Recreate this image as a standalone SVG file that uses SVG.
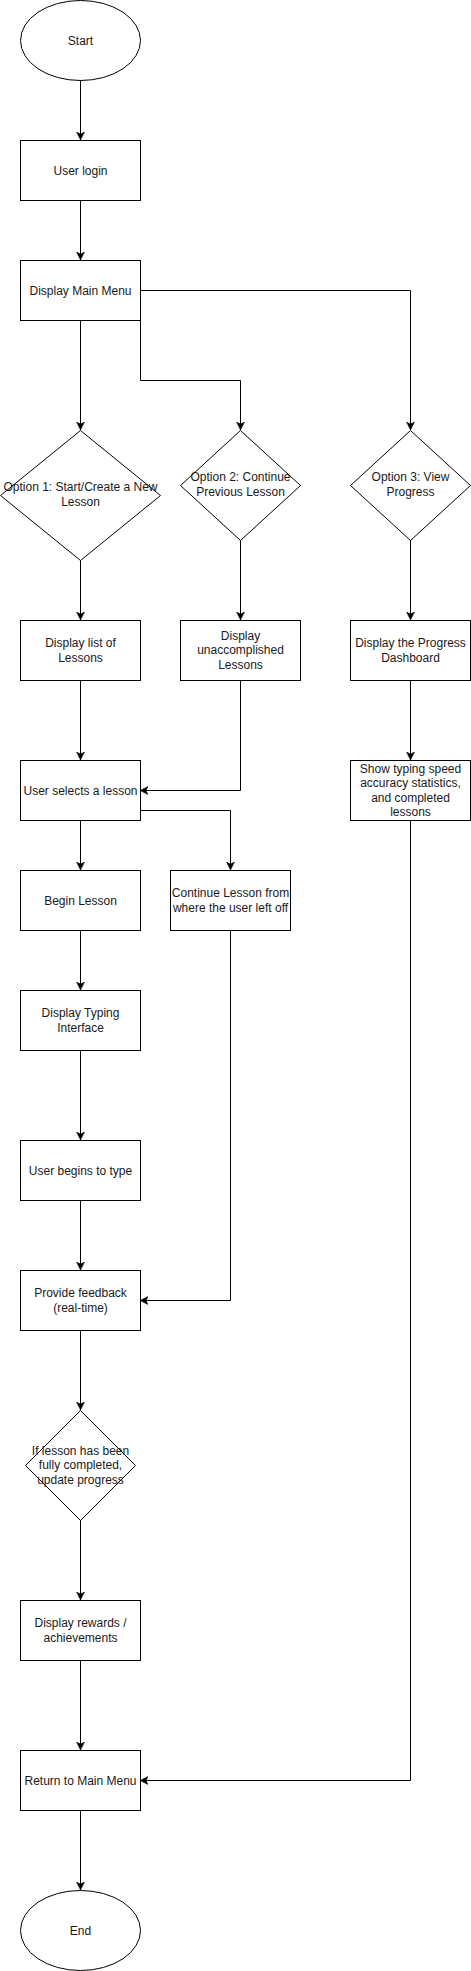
<svg xmlns="http://www.w3.org/2000/svg" width="471" height="1971" viewBox="0 0 471 1971">
<defs>
<style>
.n{fill:#ffffff;stroke:#000000;stroke-width:1}
.t{font-family:"Liberation Sans",Arial,Helvetica,sans-serif;font-size:12px;fill:#1a1a1a;text-anchor:middle}
.c{fill:none;stroke:#000000;stroke-width:1}
</style>
<marker id="arr" markerUnits="userSpaceOnUse" markerWidth="10" markerHeight="10" refX="8" refY="4" orient="auto">
<path d="M0,0 L8,4 L0,8 L2,4 z" fill="#000000" stroke="#000000" stroke-width="0.5"/>
</marker>
</defs>
<rect x="0" y="0" width="471" height="1971" fill="#ffffff"/>
<g id="connectors">
<path class="c" marker-end="url(#arr)" d="M80.5,80 L80.5,140"/>
<path class="c" marker-end="url(#arr)" d="M80.5,200 L80.5,260"/>
<path class="c" marker-end="url(#arr)" d="M80.5,320 L80.5,430"/>
<path class="c" marker-end="url(#arr)" d="M140.5,320 L140.5,380.5 L240.5,380.5 L240.5,430"/>
<path class="c" marker-end="url(#arr)" d="M140.5,290.5 L410.5,290.5 L410.5,430"/>
<path class="c" marker-end="url(#arr)" d="M80.5,560 L80.5,620"/>
<path class="c" marker-end="url(#arr)" d="M240.5,540 L240.5,620"/>
<path class="c" marker-end="url(#arr)" d="M410.5,540 L410.5,620"/>
<path class="c" marker-end="url(#arr)" d="M80.5,680 L80.5,760"/>
<path class="c" marker-end="url(#arr)" d="M240.5,680 L240.5,790.5 L140,790.5"/>
<path class="c" marker-end="url(#arr)" d="M410.5,680 L410.5,760"/>
<path class="c" marker-end="url(#arr)" d="M80.5,820 L80.5,870"/>
<path class="c" marker-end="url(#arr)" d="M140.5,810.5 L230.5,810.5 L230.5,870"/>
<path class="c" marker-end="url(#arr)" d="M80.5,930 L80.5,990"/>
<path class="c" marker-end="url(#arr)" d="M80.5,1050 L80.5,1140"/>
<path class="c" marker-end="url(#arr)" d="M80.5,1200 L80.5,1270"/>
<path class="c" marker-end="url(#arr)" d="M230.5,930 L230.5,1300.5 L140,1300.5"/>
<path class="c" marker-end="url(#arr)" d="M80.5,1330 L80.5,1410"/>
<path class="c" marker-end="url(#arr)" d="M80.5,1520 L80.5,1600"/>
<path class="c" marker-end="url(#arr)" d="M80.5,1660 L80.5,1750"/>
<path class="c" marker-end="url(#arr)" d="M410.5,820 L410.5,1780.5 L140,1780.5"/>
<path class="c" marker-end="url(#arr)" d="M80.5,1810 L80.5,1890"/>
</g>
<g id="start">
<ellipse class="n" cx="80.5" cy="40.5" rx="60" ry="40"/>
<text class="t" x="80.5" y="44.5">Start</text>
</g>
<g id="user-login">
<rect class="n" x="20.5" y="140.5" width="120" height="60"/>
<text class="t" x="80.5" y="174.5">User login</text>
</g>
<g id="main-menu">
<rect class="n" x="20.5" y="260.5" width="120" height="60"/>
<text class="t" x="80.5" y="294.5">Display Main Menu</text>
</g>
<g id="option1">
<polygon class="n" points="80.5,430.5 160.5,495.5 80.5,560.5 0.5,495.5"/>
<text class="t" x="80.5" y="491">Option 1: Start/Create a New</text>
<text class="t" x="80.5" y="506">Lesson</text>
</g>
<g id="option2">
<polygon class="n" points="240.5,430.5 300.5,485.5 240.5,540.5 180.5,485.5"/>
<text class="t" x="240.5" y="481">Option 2: Continue</text>
<text class="t" x="240.5" y="496">Previous Lesson</text>
</g>
<g id="option3">
<polygon class="n" points="410.5,430.5 470.5,485.5 410.5,540.5 350.5,485.5"/>
<text class="t" x="410.5" y="481">Option 3: View</text>
<text class="t" x="410.5" y="496">Progress</text>
</g>
<g id="list-lessons">
<rect class="n" x="20.5" y="620.5" width="120" height="60"/>
<text class="t" x="80.5" y="647">Display list of</text>
<text class="t" x="80.5" y="662">Lessons</text>
</g>
<g id="unaccomplished">
<rect class="n" x="180.5" y="620.5" width="120" height="60"/>
<text class="t" x="240.5" y="640">Display</text>
<text class="t" x="240.5" y="654">unaccomplished</text>
<text class="t" x="240.5" y="669">Lessons</text>
</g>
<g id="progress-dashboard">
<rect class="n" x="350.5" y="620.5" width="120" height="60"/>
<text class="t" x="410.5" y="647">Display the Progress</text>
<text class="t" x="410.5" y="662">Dashboard</text>
</g>
<g id="user-selects">
<rect class="n" x="20.5" y="760.5" width="120" height="60"/>
<text class="t" x="80.5" y="794.5">User selects a lesson</text>
</g>
<g id="show-stats">
<rect class="n" x="350.5" y="760.5" width="120" height="60"/>
<text class="t" x="410.5" y="773">Show typing speed</text>
<text class="t" x="410.5" y="787">accuracy statistics,</text>
<text class="t" x="410.5" y="802">and completed</text>
<text class="t" x="410.5" y="816">lessons</text>
</g>
<g id="begin-lesson">
<rect class="n" x="20.5" y="870.5" width="120" height="60"/>
<text class="t" x="80.5" y="904.5">Begin Lesson</text>
</g>
<g id="continue-lesson">
<rect class="n" x="170.5" y="870.5" width="120" height="60"/>
<text class="t" x="230.5" y="897">Continue Lesson from</text>
<text class="t" x="230.5" y="912">where the user left off</text>
</g>
<g id="typing-interface">
<rect class="n" x="20.5" y="990.5" width="120" height="60"/>
<text class="t" x="80.5" y="1017">Display Typing</text>
<text class="t" x="80.5" y="1032">Interface</text>
</g>
<g id="user-types">
<rect class="n" x="20.5" y="1140.5" width="120" height="60"/>
<text class="t" x="80.5" y="1174.5">User begins to type</text>
</g>
<g id="feedback">
<rect class="n" x="20.5" y="1270.5" width="120" height="60"/>
<text class="t" x="80.5" y="1297">Provide feedback</text>
<text class="t" x="80.5" y="1312">(real-time)</text>
</g>
<g id="lesson-complete">
<polygon class="n" points="80.5,1410.5 135.5,1465.5 80.5,1520.5 25.5,1465.5"/>
<text class="t" x="80.5" y="1455">If lesson has been</text>
<text class="t" x="80.5" y="1469">fully completed,</text>
<text class="t" x="80.5" y="1484">update progress</text>
</g>
<g id="rewards">
<rect class="n" x="20.5" y="1600.5" width="120" height="60"/>
<text class="t" x="80.5" y="1627">Display rewards /</text>
<text class="t" x="80.5" y="1642">achievements</text>
</g>
<g id="return-menu">
<rect class="n" x="20.5" y="1750.5" width="120" height="60"/>
<text class="t" x="80.5" y="1784.5">Return to Main Menu</text>
</g>
<g id="end">
<ellipse class="n" cx="80.5" cy="1930.5" rx="60" ry="40"/>
<text class="t" x="80.5" y="1934.5">End</text>
</g>
</svg>
